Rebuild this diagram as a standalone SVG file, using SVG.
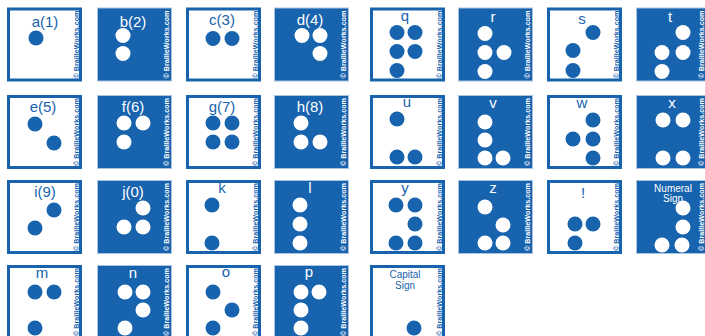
<svg xmlns="http://www.w3.org/2000/svg" width="705" height="336" viewBox="0 0 705 336">
<style>
.w rect{fill:#fff;stroke:#1763ae;stroke-width:3}
.b rect{fill:#1763ae;stroke:#a9c3e0;stroke-width:1}
.w circle{fill:#1763ae}
.b circle{fill:#fff}
.w text{fill:#1763ae}
.b text{fill:#fff}
text{font-family:"Liberation Sans",Arial,sans-serif;text-anchor:middle}
.l{font-size:15px}
.s{font-size:10px}
.m{font-size:7px;font-weight:bold}
</style>
<rect width="705" height="336" fill="#fff"/>
<!-- Row 1 -->
<g id="a" class="w" transform="translate(7,7.5)"><rect x="1.5" y="1.5" width="72" height="71"/><text class="l" x="38" y="19.5">a(1)</text><circle cx="29" cy="30.5" r="7.5"/><text class="m" transform="translate(71.5,37) rotate(-90)" textLength="68" lengthAdjust="spacingAndGlyphs">© BrailleWorks.com</text></g>
<g id="b" class="b" transform="translate(97,7.5)"><rect x="0.5" y="0.5" width="74" height="73"/><text class="l" x="36" y="19.5">b(2)</text><circle cx="26" cy="28" r="7.5"/><circle cx="26" cy="46" r="7.5"/><text class="m" transform="translate(71.5,37) rotate(-90)" textLength="68" lengthAdjust="spacingAndGlyphs">© BrailleWorks.com</text></g>
<g id="c" class="w" transform="translate(186,7.5)"><rect x="1.5" y="1.5" width="72" height="71"/><text class="l" x="36" y="17">c(3)</text><circle cx="27" cy="31" r="7.5"/><circle cx="46" cy="31" r="7.5"/><text class="m" transform="translate(71.5,37) rotate(-90)" textLength="68" lengthAdjust="spacingAndGlyphs">© BrailleWorks.com</text></g>
<g id="d" class="b" transform="translate(274,7.5)"><rect x="0.5" y="0.5" width="74" height="73"/><text class="l" x="36" y="17">d(4)</text><circle cx="28" cy="28" r="7.5"/><circle cx="46" cy="28" r="7.5"/><circle cx="46" cy="46" r="7.5"/><text class="m" transform="translate(71.5,37) rotate(-90)" textLength="68" lengthAdjust="spacingAndGlyphs">© BrailleWorks.com</text></g>
<g id="q" class="w" transform="translate(370,7.5)"><rect x="1.5" y="1.5" width="72" height="71"/><text class="l" x="35" y="13">q</text><circle cx="27" cy="25" r="7.5"/><circle cx="45" cy="25" r="7.5"/><circle cx="27" cy="44" r="7.5"/><circle cx="45" cy="44" r="7.5"/><circle cx="27" cy="63" r="7.5"/><text class="m" transform="translate(71.5,37) rotate(-90)" textLength="68" lengthAdjust="spacingAndGlyphs">© BrailleWorks.com</text></g>
<g id="r" class="b" transform="translate(458,7.5)"><rect x="0.5" y="0.5" width="74" height="73"/><text class="l" x="35" y="14">r</text><circle cx="27" cy="26" r="7.5"/><circle cx="27" cy="45" r="7.5"/><circle cx="46" cy="45" r="7.5"/><circle cx="27" cy="64" r="7.5"/><text class="m" transform="translate(71.5,37) rotate(-90)" textLength="68" lengthAdjust="spacingAndGlyphs">© BrailleWorks.com</text></g>
<g id="s" class="w" transform="translate(547,7.5)"><rect x="1.5" y="1.5" width="72" height="71"/><text class="l" x="35" y="16">s</text><circle cx="46" cy="25" r="7.5"/><circle cx="26" cy="43" r="7.5"/><circle cx="26" cy="63" r="7.5"/><text class="m" transform="translate(71.5,37) rotate(-90)" textLength="68" lengthAdjust="spacingAndGlyphs">© BrailleWorks.com</text></g>
<g id="t" class="b" transform="translate(636,7.5)"><rect x="0.5" y="0.5" width="74" height="73"/><text class="l" x="34" y="14">t</text><circle cx="47" cy="25" r="7.5"/><circle cx="26" cy="45" r="7.5"/><circle cx="47" cy="45" r="7.5"/><circle cx="26" cy="64" r="7.5"/><text class="m" transform="translate(68,37) rotate(-90)" textLength="68" lengthAdjust="spacingAndGlyphs">© BrailleWorks.com</text></g>
<!-- Row 2 -->
<g id="e" class="w" transform="translate(7,95)"><rect x="1.5" y="1.5" width="72" height="71"/><text class="l" x="36" y="17">e(5)</text><circle cx="28" cy="29" r="7.5"/><circle cx="47" cy="48" r="7.5"/><text class="m" transform="translate(71.5,37) rotate(-90)" textLength="68" lengthAdjust="spacingAndGlyphs">© BrailleWorks.com</text></g>
<g id="f" class="b" transform="translate(97,95)"><rect x="0.5" y="0.5" width="74" height="73"/><text class="l" x="36" y="17">f(6)</text><circle cx="27" cy="28" r="7.5"/><circle cx="46" cy="28" r="7.5"/><circle cx="27" cy="47" r="7.5"/><text class="m" transform="translate(71.5,37) rotate(-90)" textLength="68" lengthAdjust="spacingAndGlyphs">© BrailleWorks.com</text></g>
<g id="g" class="w" transform="translate(186,95)"><rect x="1.5" y="1.5" width="72" height="71"/><text class="l" x="36" y="17">g(7)</text><circle cx="27" cy="28" r="7.5"/><circle cx="46" cy="28" r="7.5"/><circle cx="27" cy="47" r="7.5"/><circle cx="46" cy="47" r="7.5"/><text class="m" transform="translate(71.5,37) rotate(-90)" textLength="68" lengthAdjust="spacingAndGlyphs">© BrailleWorks.com</text></g>
<g id="h" class="b" transform="translate(274,95)"><rect x="0.5" y="0.5" width="74" height="73"/><text class="l" x="36" y="17">h(8)</text><circle cx="27" cy="28" r="7.5"/><circle cx="27" cy="47" r="7.5"/><circle cx="46" cy="47" r="7.5"/><text class="m" transform="translate(71.5,37) rotate(-90)" textLength="68" lengthAdjust="spacingAndGlyphs">© BrailleWorks.com</text></g>
<g id="u" class="w" transform="translate(370,95)"><rect x="1.5" y="1.5" width="72" height="71"/><text class="l" x="37" y="12">u</text><circle cx="27" cy="24" r="7.5"/><circle cx="27" cy="62" r="7.5"/><circle cx="45" cy="62" r="7.5"/><text class="m" transform="translate(71.5,37) rotate(-90)" textLength="68" lengthAdjust="spacingAndGlyphs">© BrailleWorks.com</text></g>
<g id="v" class="b" transform="translate(458,95)"><rect x="0.5" y="0.5" width="74" height="73"/><text class="l" x="35" y="13">v</text><circle cx="27" cy="27" r="7.5"/><circle cx="27" cy="45" r="7.5"/><circle cx="27" cy="63" r="7.5"/><circle cx="45" cy="63" r="7.5"/><text class="m" transform="translate(71.5,37) rotate(-90)" textLength="68" lengthAdjust="spacingAndGlyphs">© BrailleWorks.com</text></g>
<g id="w" class="w" transform="translate(547,95)"><rect x="1.5" y="1.5" width="72" height="71"/><text class="l" x="35" y="13">w</text><circle cx="46" cy="25" r="7.5"/><circle cx="26" cy="44" r="7.5"/><circle cx="46" cy="44" r="7.5"/><circle cx="46" cy="63" r="7.5"/><text class="m" transform="translate(71.5,37) rotate(-90)" textLength="68" lengthAdjust="spacingAndGlyphs">© BrailleWorks.com</text></g>
<g id="x" class="b" transform="translate(636,95)"><rect x="0.5" y="0.5" width="74" height="73"/><text class="l" x="36" y="13">x</text><circle cx="27" cy="25" r="7.5"/><circle cx="47" cy="25" r="7.5"/><circle cx="27" cy="63" r="7.5"/><circle cx="47" cy="63" r="7.5"/><text class="m" transform="translate(68,37) rotate(-90)" textLength="68" lengthAdjust="spacingAndGlyphs">© BrailleWorks.com</text></g>
<!-- Row 3 -->
<g id="i" class="w" transform="translate(7,180)"><rect x="1.5" y="1.5" width="72" height="71"/><text class="l" x="38" y="17">i(9)</text><circle cx="47" cy="30" r="7.5"/><circle cx="28" cy="48" r="7.5"/><text class="m" transform="translate(71.5,37) rotate(-90)" textLength="68" lengthAdjust="spacingAndGlyphs">© BrailleWorks.com</text></g>
<g id="j" class="b" transform="translate(97,180)"><rect x="0.5" y="0.5" width="74" height="73"/><text class="l" x="36" y="17">j(0)</text><circle cx="46" cy="28" r="7.5"/><circle cx="27" cy="47" r="7.5"/><circle cx="46" cy="47" r="7.5"/><text class="m" transform="translate(71.5,37) rotate(-90)" textLength="68" lengthAdjust="spacingAndGlyphs">© BrailleWorks.com</text></g>
<g id="k" class="w" transform="translate(186,180)"><rect x="1.5" y="1.5" width="72" height="71"/><text class="l" x="36" y="13">k</text><circle cx="26" cy="25" r="7.5"/><circle cx="26" cy="63" r="7.5"/><text class="m" transform="translate(71.5,37) rotate(-90)" textLength="68" lengthAdjust="spacingAndGlyphs">© BrailleWorks.com</text></g>
<g id="l" class="b" transform="translate(274,180)"><rect x="0.5" y="0.5" width="74" height="73"/><text class="l" x="36" y="13">l</text><circle cx="26" cy="25" r="7.5"/><circle cx="26" cy="44" r="7.5"/><circle cx="26" cy="63" r="7.5"/><text class="m" transform="translate(71.5,37) rotate(-90)" textLength="68" lengthAdjust="spacingAndGlyphs">© BrailleWorks.com</text></g>
<g id="y" class="w" transform="translate(370,180)"><rect x="1.5" y="1.5" width="72" height="71"/><text class="l" x="35" y="13">y</text><circle cx="26" cy="25" r="7.5"/><circle cx="45" cy="25" r="7.5"/><circle cx="45" cy="44" r="7.5"/><circle cx="26" cy="63" r="7.5"/><circle cx="45" cy="63" r="7.5"/><text class="m" transform="translate(71.5,37) rotate(-90)" textLength="68" lengthAdjust="spacingAndGlyphs">© BrailleWorks.com</text></g>
<g id="z" class="b" transform="translate(458,180)"><rect x="0.5" y="0.5" width="74" height="73"/><text class="l" x="35" y="13">z</text><circle cx="27" cy="27" r="7.5"/><circle cx="45" cy="45" r="7.5"/><circle cx="27" cy="63" r="7.5"/><circle cx="45" cy="63" r="7.5"/><text class="m" transform="translate(71.5,37) rotate(-90)" textLength="68" lengthAdjust="spacingAndGlyphs">© BrailleWorks.com</text></g>
<g id="excl" class="w" transform="translate(547,180)"><rect x="1.5" y="1.5" width="72" height="71"/><text class="l" x="36" y="18">!</text><circle cx="28" cy="44" r="7.5"/><circle cx="46" cy="44" r="7.5"/><circle cx="28" cy="63" r="7.5"/><text class="m" transform="translate(71.5,37) rotate(-90)" textLength="68" lengthAdjust="spacingAndGlyphs">© BrailleWorks.com</text></g>
<g id="numeral" class="b" transform="translate(636,180)"><rect x="0.5" y="0.5" width="74" height="73"/><text class="s" x="37" y="12">Numeral</text><text class="s" x="37" y="22">Sign</text><circle cx="47" cy="28" r="7.5"/><circle cx="47" cy="47" r="7.5"/><circle cx="26" cy="65" r="7.5"/><circle cx="46" cy="65" r="7.5"/><text class="m" transform="translate(68,37) rotate(-90)" textLength="68" lengthAdjust="spacingAndGlyphs">© BrailleWorks.com</text></g>
<!-- Row 4 -->
<g id="m" class="w" transform="translate(7,265)"><rect x="1.5" y="1.5" width="72" height="71"/><text class="l" x="35" y="13">m</text><circle cx="28" cy="27" r="7.5"/><circle cx="47" cy="27" r="7.5"/><circle cx="28" cy="63" r="7.5"/><text class="m" transform="translate(71.5,37) rotate(-90)" textLength="68" lengthAdjust="spacingAndGlyphs">© BrailleWorks.com</text></g>
<g id="n" class="b" transform="translate(97,265)"><rect x="0.5" y="0.5" width="74" height="73"/><text class="l" x="36" y="13">n</text><circle cx="28" cy="27" r="7.5"/><circle cx="46" cy="27" r="7.5"/><circle cx="46" cy="45" r="7.5"/><circle cx="28" cy="63" r="7.5"/><text class="m" transform="translate(71.5,37) rotate(-90)" textLength="68" lengthAdjust="spacingAndGlyphs">© BrailleWorks.com</text></g>
<g id="o" class="w" transform="translate(186,265)"><rect x="1.5" y="1.5" width="72" height="71"/><text class="l" x="40" y="12">o</text><circle cx="27" cy="27" r="7.5"/><circle cx="46" cy="45" r="7.5"/><circle cx="27" cy="63" r="7.5"/><text class="m" transform="translate(71.5,37) rotate(-90)" textLength="68" lengthAdjust="spacingAndGlyphs">© BrailleWorks.com</text></g>
<g id="p" class="b" transform="translate(274,265)"><rect x="0.5" y="0.5" width="74" height="73"/><text class="l" x="35" y="12">p</text><circle cx="27" cy="27" r="7.5"/><circle cx="45" cy="27" r="7.5"/><circle cx="27" cy="45" r="7.5"/><circle cx="27" cy="63" r="7.5"/><text class="m" transform="translate(71.5,37) rotate(-90)" textLength="68" lengthAdjust="spacingAndGlyphs">© BrailleWorks.com</text></g>
<g id="capital" class="w" transform="translate(370,265)"><rect x="1.5" y="1.5" width="72" height="71"/><text class="s" x="35" y="13">Capital</text><text class="s" x="35" y="24">Sign</text><circle cx="44" cy="63" r="7.5"/><text class="m" transform="translate(71.5,37) rotate(-90)" textLength="68" lengthAdjust="spacingAndGlyphs">© BrailleWorks.com</text></g>
<g id="connectors"/>
</svg>
